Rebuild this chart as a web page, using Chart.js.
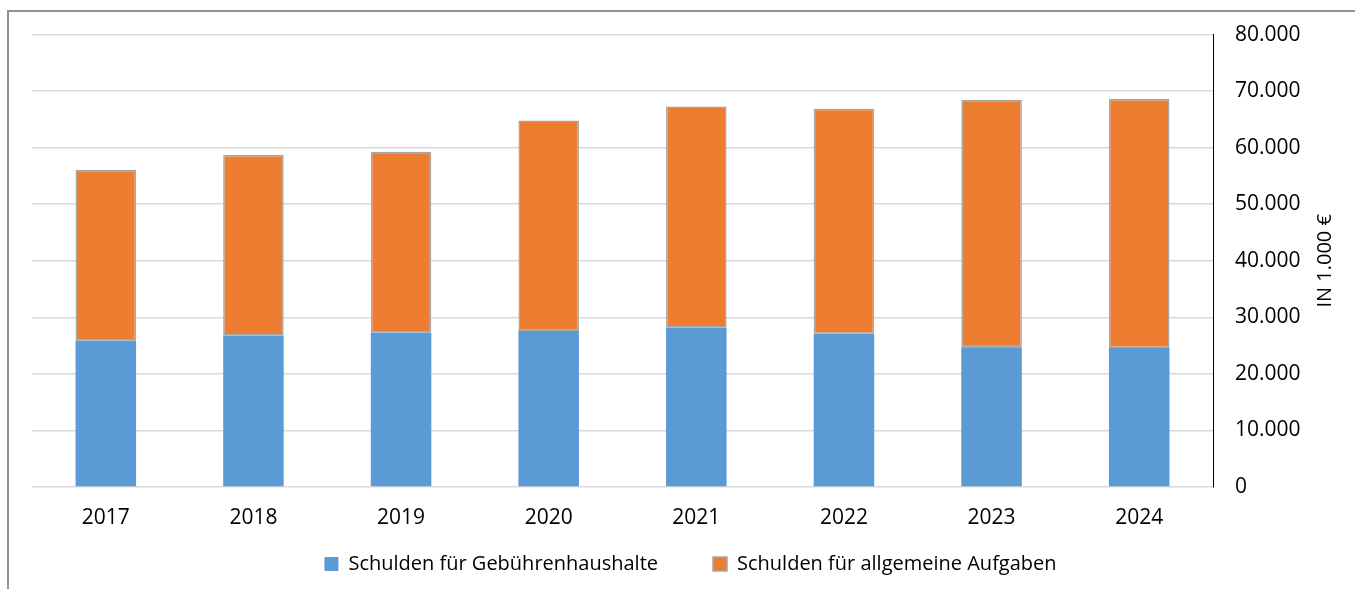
<!DOCTYPE html>
<html>
<head>
<meta charset="utf-8">
<script src="https://cdn.jsdelivr.net/npm/chart.js@4.4.1/dist/chart.umd.min.js"></script>
<style>
  html, body { margin: 0; padding: 0; background: #fff; }
  .frame {
    position: absolute; left: 7px; top: 10px; width: 1400px; height: 600px;
    border-top: 2px solid #939393; border-left: 2px solid #939393;
  }
  .chart_container { position: absolute; left: 0; top: 0; width: 1355px; height: 589px; }
</style>
</head>
<body>
<div class="frame"></div>
<div class="chart_container"><canvas id="debtChart"></canvas></div>
<script>
// Jahre
let years = ['2017', '2018', '2019', '2020', '2021', '2022', '2023', '2024'];
// Schulden in 1.000 €
let gebuehren = [25900, 26800, 27300, 27600, 28200, 27100, 24700, 24600];
let allgemein = [30200, 31900, 32000, 37200, 39100, 39800, 43800, 44000];
let seriesNames = ['Schulden für Gebührenhaushalte', 'Schulden für allgemeine Aufgaben'];
let axisTitle = 'IN 1.000 €';

const FONT = "'Open Sans', sans-serif";

function formatDE(v) {
    return String(v).replace(/\B(?=(\d{3})+(?!\d))/g, '.');
}

// title on the right reads bottom to top, chart.js would rotate it the other way
const rightTitle = {
    id: 'rightTitle',
    afterDraw(chart) {
        const c = chart.ctx;
        const area = chart.chartArea;
        c.save();
        c.translate(1325, (area.top + area.bottom) / 2);
        c.rotate(-Math.PI / 2);
        c.font = "20px " + FONT;
        c.fillStyle = '#000';
        c.textAlign = 'center';
        c.textBaseline = 'middle';
        c.fillText(axisTitle, 0, 0);
        c.restore();
    }
};

// keep the legend short although the gap between its items is wide
const legendFix = {
    id: 'legendFix',
    beforeLayout(chart) {
        const lg = chart.legend;
        if (lg && !lg._fixed) {
            const fit = lg.fit;
            lg.fit = function () { fit.call(this); this.height = 55; };
            lg._fixed = true;
        }
    },
    afterLayout(chart) {
        const lg = chart.legend;
        lg.left += 23;
        lg.right += 23;
        lg.top = 499;
    }
};

let ctx = document.getElementById('debtChart').getContext('2d');
let myChart = new Chart(ctx, {
    type: 'bar',
    data: {
        labels: years,
        datasets: [{
            label: seriesNames[0],
            data: gebuehren,
            backgroundColor: '#5b9bd5',
            borderWidth: 0,
            barPercentage: 0.41,
            categoryPercentage: 1
        }, {
            label: seriesNames[1],
            data: allgemein,
            backgroundColor: '#ed7d31',
            borderColor: '#a5a5a5',
            borderWidth: 1.5,
            borderSkipped: false,
            barPercentage: 0.41,
            categoryPercentage: 1
        }]
    },
    options: {
        responsive: true,
        maintainAspectRatio: false,
        animation: false,
        layout: { padding: { left: 32, right: 52, top: 28.5, bottom: 7 } },
        plugins: {
            legend: {
                position: 'bottom',
                labels: {
                    color: '#000',
                    font: { family: FONT, size: 20 },
                    boxWidth: 14,
                    boxHeight: 14,
                    padding: 55
                }
            },
            tooltip: { enabled: false }
        },
        scales: {
            x: {
                stacked: true,
                grid: { display: false },
                border: { display: false },
                afterFit: s => { s.height = 40; },
                ticks: { color: '#000', font: { family: FONT, size: 21 }, padding: 10 }
            },
            y: {
                stacked: true,
                position: 'right',
                min: 0,
                max: 80000,
                afterFit: s => { s.width = 90; },
                grid: { color: '#d9d9d9', lineWidth: 1.5, drawTicks: false },
                border: { display: true, color: '#000', width: 1 },
                ticks: {
                    stepSize: 10000,
                    color: '#000',
                    font: { family: FONT, size: 21 },
                    padding: 22,
                    callback: v => formatDE(v)
                }
            }
        }
    },
    plugins: [rightTitle, legendFix]
});
</script>
</body>
</html>
